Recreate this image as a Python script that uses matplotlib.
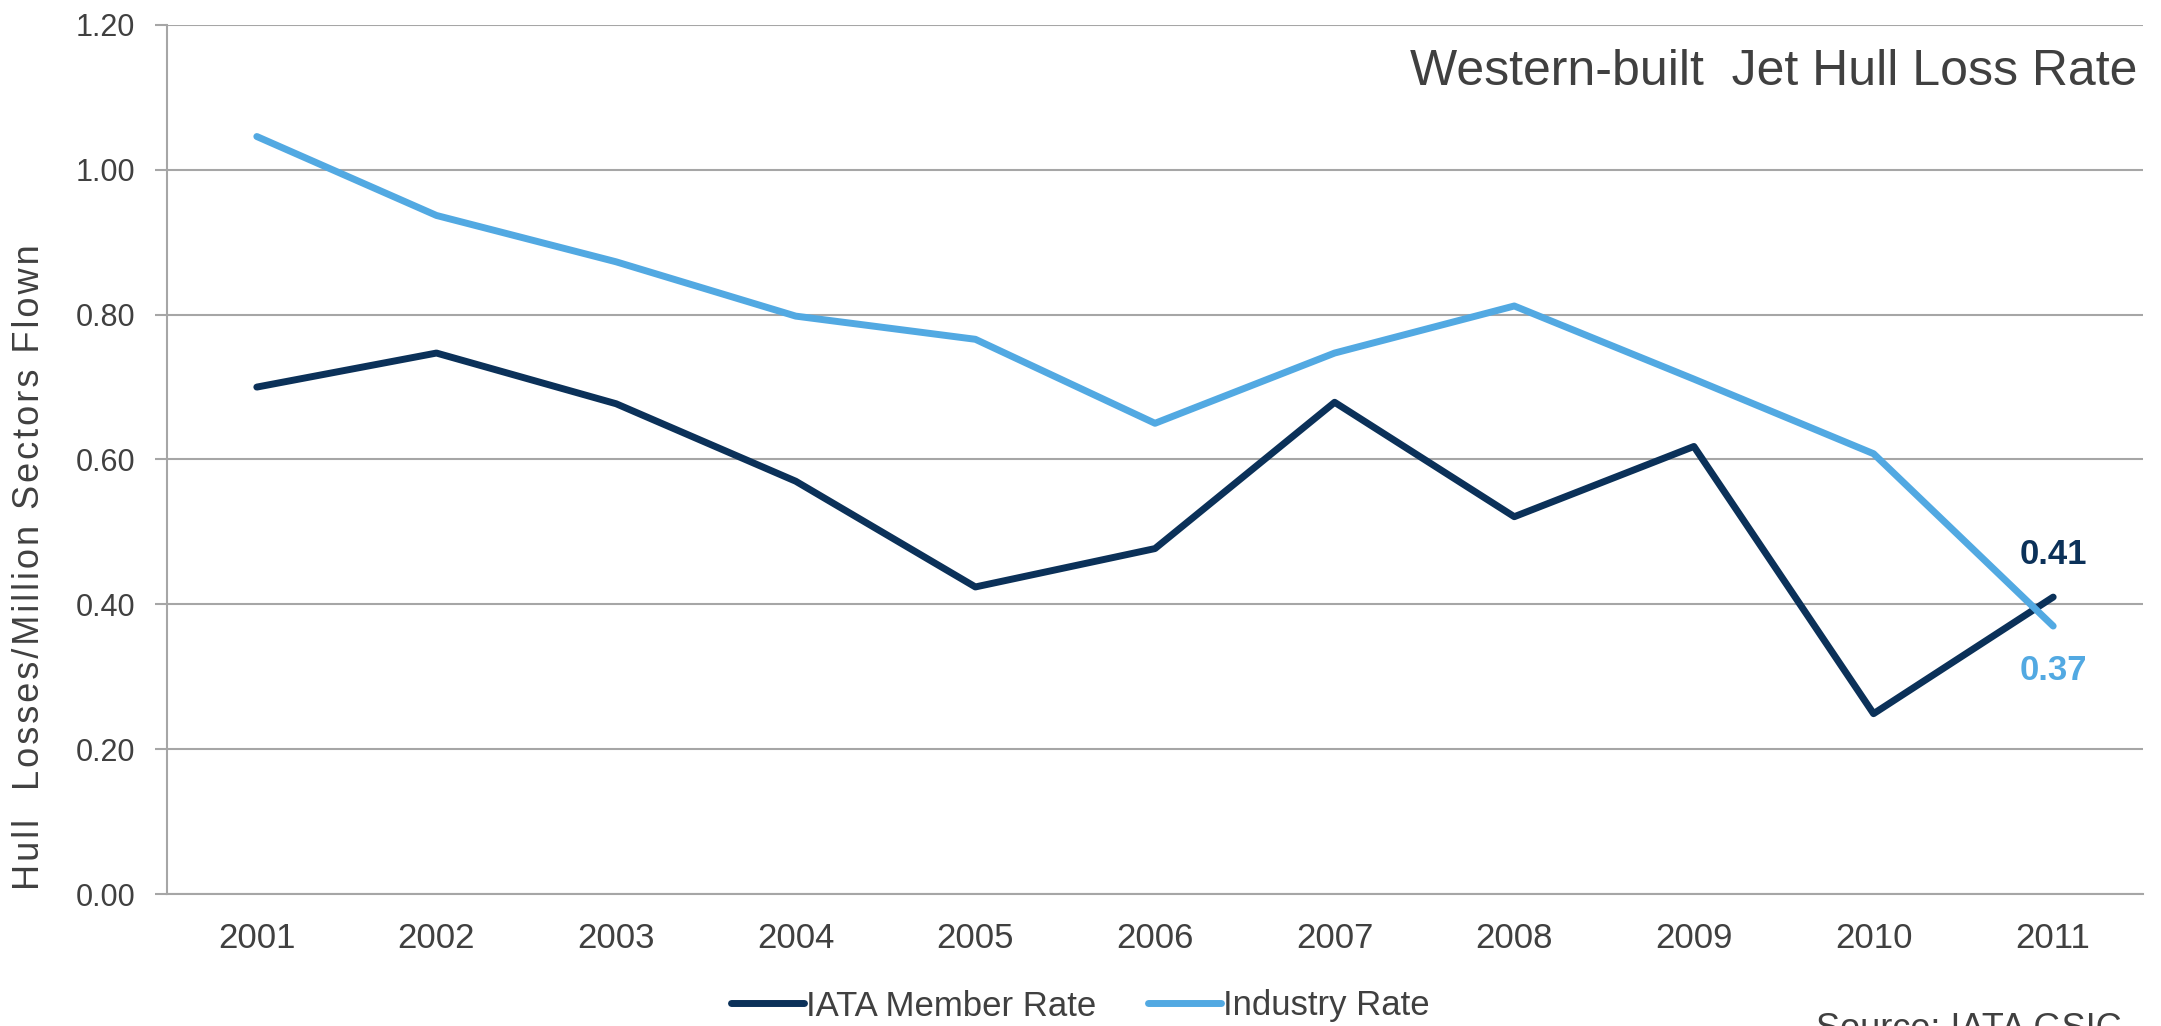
import matplotlib.pyplot as plt

plt.rcParams['font.family'] = ['Liberation Sans', 'DejaVu Sans']

anos = ['2001', '2002', '2003', '2004', '2005', '2006', '2007', '2008', '2009', '2010', '2011']
taxa_iata = [0.70, 0.747, 0.677, 0.570, 0.424, 0.477, 0.679, 0.521, 0.618, 0.249, 0.41]
taxa_industria = [1.046, 0.937, 0.873, 0.798, 0.766, 0.650, 0.747, 0.812, 0.711, 0.608, 0.37]

cor_iata = '#0B3159'
cor_industria = '#52A9E2'
cor_texto = '#404040'
cor_grade = '#A6A6A6'

fig = plt.figure(figsize=(21.61, 10.26), dpi=100)
ax = fig.add_axes([167 / 2161, 1 - 894 / 1026, (2143 - 167) / 2161, (894 - 25) / 1026])

x = range(len(anos))
ax.plot(x, taxa_iata, color=cor_iata, lw=5, label='IATA Member Rate', solid_capstyle='round')
ax.plot(x, taxa_industria, color=cor_industria, lw=5, label='Industry Rate', solid_capstyle='round')

ax.set_xlim(-0.5, len(anos) - 0.5)
ax.set_ylim(0, 1.2)
ax.set_yticks([0, 0.2, 0.4, 0.6, 0.8, 1.0, 1.2])
ax.set_yticklabels([f'{v:.2f}' for v in ax.get_yticks()])
ax.set_xticks(list(x))
ax.set_xticklabels(anos)
ax.tick_params(axis='x', length=0, labelsize=25, colors=cor_texto, pad=20)
ax.tick_params(axis='y', length=9, width=1.5, color=cor_grade, labelsize=22, labelcolor=cor_texto, pad=14)
ax.grid(axis='y', color=cor_grade, lw=1.5)
ax.set_axisbelow(True)
for lado in ['top', 'right']:
    ax.spines[lado].set_visible(False)
for lado in ['left', 'bottom']:
    ax.spines[lado].set_color(cor_grade)
    ax.spines[lado].set_linewidth(1.5)

# rótulo do eixo y com espaçamento leve entre letras
rotulo = '\u200a'.join('Hull  Losses/Million Sectors Flown')
fig.text(30 / 2161, 1 - 567 / 1026, rotulo, rotation=90, ha='center', va='center',
         fontsize=26, color=cor_texto)

ax.text(0.997, 0.946, 'Western-built  Jet Hull Loss Rate', transform=ax.transAxes,
        ha='right', va='center', fontsize=36, color=cor_texto)

ultimo = len(anos) - 1
ax.annotate(f'{taxa_iata[-1]:.2f}', (ultimo, taxa_iata[-1]), xytext=(0, 31),
            textcoords='offset points', ha='center', va='center',
            fontsize=25, fontweight='bold', color=cor_iata)
ax.annotate(f'{taxa_industria[-1]:.2f}', (ultimo, taxa_industria[-1]), xytext=(0, -32),
            textcoords='offset points', ha='center', va='center',
            fontsize=25, fontweight='bold', color=cor_industria)

fig.legend(loc='center', bbox_to_anchor=(0.5, 1 - 1006 / 1026), ncol=2, frameon=False,
           fontsize=25, handlelength=2.1, handletextpad=0.05, columnspacing=1.5,
           labelcolor=cor_texto)

fig.text(1816 / 2161, 1 - 1012 / 1026, 'Source: IATA GSIC', fontsize=26, color=cor_texto,
         ha='left', va='top')

fig.savefig('out.png', dpi=100)
